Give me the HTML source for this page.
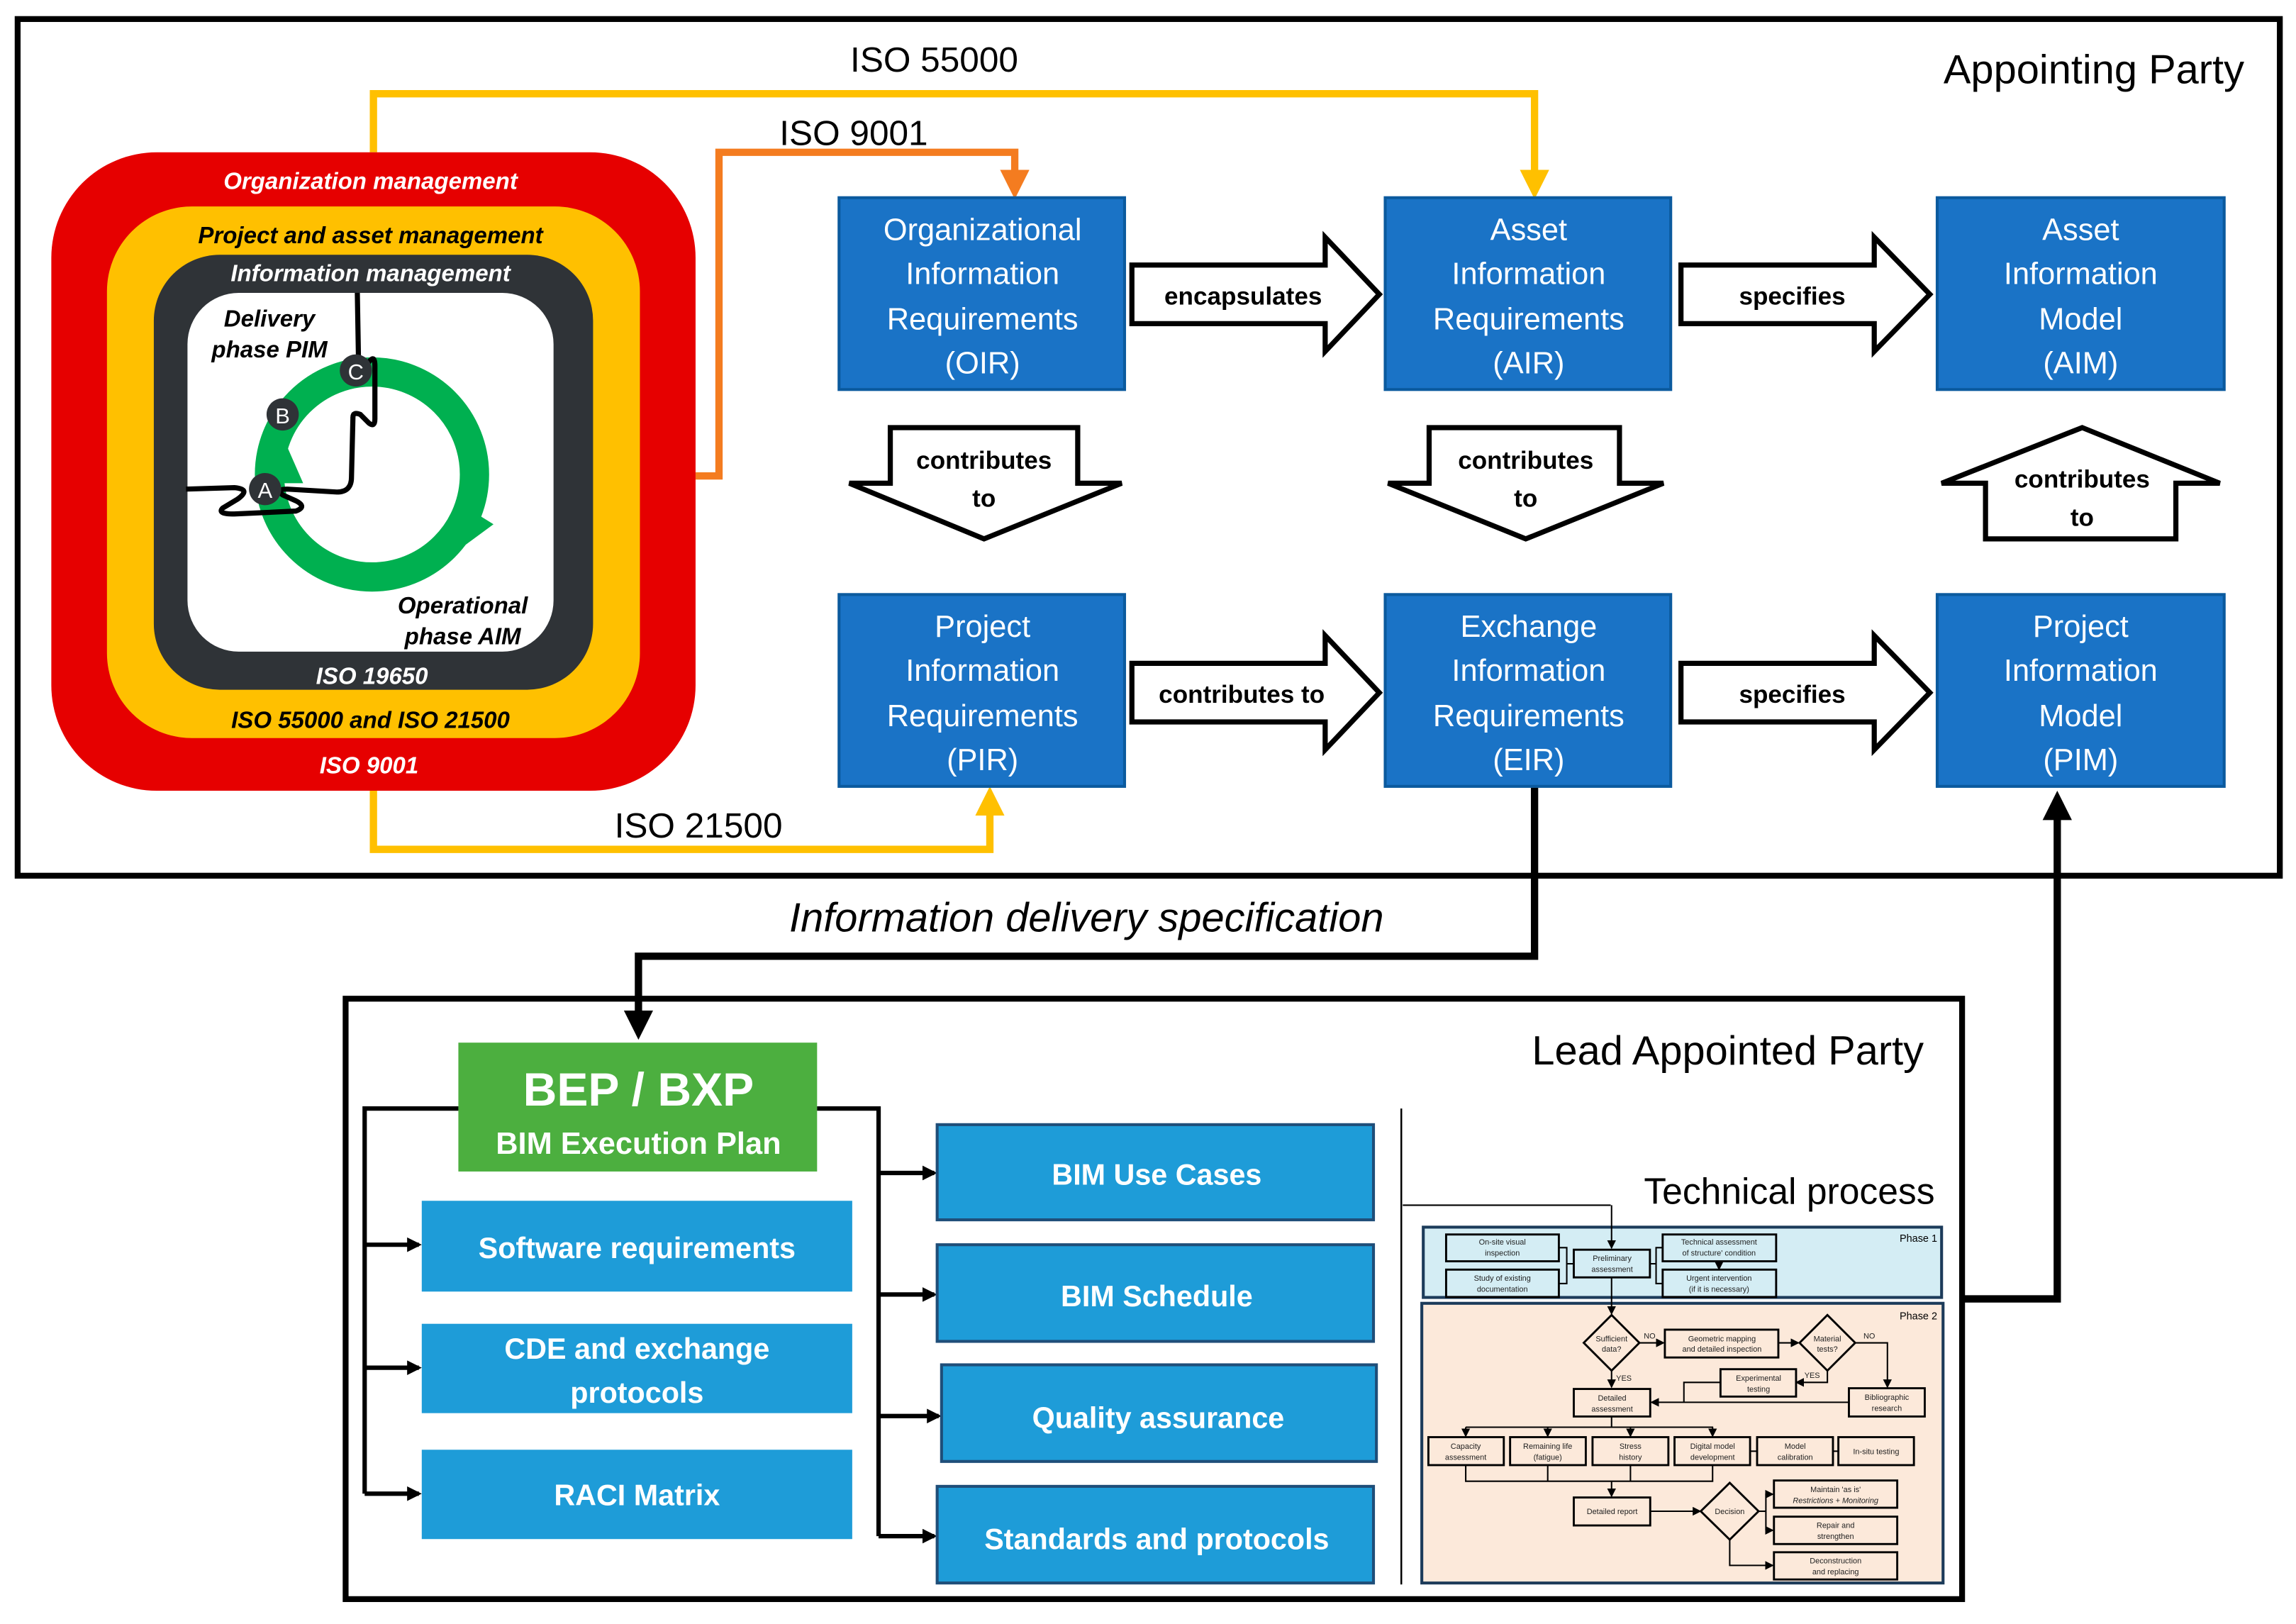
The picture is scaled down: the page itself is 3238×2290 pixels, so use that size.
<!DOCTYPE html>
<html><head><meta charset="utf-8"><style>html,body{margin:0;padding:0;background:#fff}svg{display:block}</style></head>
<body>
<svg xmlns="http://www.w3.org/2000/svg" width="3238" height="2290" viewBox="0 0 1568 1109" font-family="Liberation Sans, sans-serif">
<defs>
<marker id="ab" markerWidth="4" markerHeight="4" refX="2" refY="2" orient="auto" markerUnits="strokeWidth"><path d="M0,0 L4,2 L0,4 z" fill="#000"/></marker>
<marker id="ao" markerWidth="4" markerHeight="4" refX="2" refY="2" orient="auto" markerUnits="strokeWidth"><path d="M0,0 L4,2 L0,4 z" fill="#f47c20"/></marker>
<marker id="ay" markerWidth="4" markerHeight="4" refX="2" refY="2" orient="auto" markerUnits="strokeWidth"><path d="M0,0 L4,2 L0,4 z" fill="#ffc000"/></marker>
<marker id="as" markerWidth="6" markerHeight="6" refX="5" refY="3" orient="auto" markerUnits="userSpaceOnUse"><path d="M0,0 L6,3 L0,6 z" fill="#000"/></marker>
<marker id="am" markerWidth="10" markerHeight="10" refX="8" refY="5" orient="auto" markerUnits="userSpaceOnUse"><path d="M0,0 L10,5 L0,10 z" fill="#000"/></marker>
</defs>
<rect width="1568" height="1109" fill="#fff"/>
<!-- Top frame -->
<rect x="12" y="13" width="1545" height="585" fill="none" stroke="#000" stroke-width="4"/>
<text x="1430" y="57" font-size="28" text-anchor="middle">Appointing Party</text>

<!-- connectors top -->
<polyline points="255,104 255,64 1048,64 1048,126" fill="none" stroke="#ffc000" stroke-width="5" marker-end="url(#ay)"/>
<text x="638" y="49" font-size="24" text-anchor="middle">ISO 55000</text>
<polyline points="475,325 491,325 491,104 693,104 693,126" fill="none" stroke="#f47c20" stroke-width="5" marker-end="url(#ao)"/>
<text x="583" y="99" font-size="24" text-anchor="middle">ISO 9001</text>
<polyline points="255,540 255,580 676,580 676,547" fill="none" stroke="#ffc000" stroke-width="5" marker-end="url(#ay)"/>
<text x="477" y="572" font-size="24" text-anchor="middle">ISO 21500</text>

<!-- nested rounded rects -->
<rect x="35" y="104" width="440" height="436" rx="72" fill="#e60000"/>
<rect x="73" y="141" width="364" height="363" rx="58" fill="#ffc000"/>
<rect x="105" y="174" width="300" height="297" rx="45" fill="#2f3337"/>
<rect x="128" y="200" width="250" height="245" rx="35" fill="#fff"/>
<g font-weight="bold" font-style="italic" font-size="16" text-anchor="middle">
<text x="253" y="129" fill="#fff">Organization management</text>
<text x="253" y="166" fill="#000">Project and asset management</text>
<text x="253" y="192" fill="#fff">Information management</text>
<text x="254" y="467" fill="#fff">ISO 19650</text>
<text x="253" y="497" fill="#000">ISO 55000 and ISO 21500</text>
<text x="252" y="528" fill="#fff">ISO 9001</text>
<text x="184" y="223" fill="#000">Delivery</text>
<text x="184" y="244" fill="#000">phase PIM</text>
<text x="316" y="419" fill="#000">Operational</text>
<text x="316" y="440" fill="#000">phase AIM</text>
</g>
<!-- green cycle -->
<circle cx="254" cy="324" r="70" fill="none" stroke="#00b050" stroke-width="20"/>
<polygon points="193,298 180,330 207,330" fill="#00b050"/>
<polygon points="316,345 337,358 318,372" fill="#00b050"/>
<!-- squiggle -->
<path d="M127,334 L160,333 Q172,334 162,341 L152,347 Q148,351 160,351 L202,349 Q210,346 202,342 L193,338 Q188,334 196,334 L230,336 Q240,336 240,326 L241,285 Q241,281 246,283 L252,289 Q256,292 256,286 L256,250 Q256,240 250,250 L245,258 L244,200" fill="none" stroke="#000" stroke-width="3.5"/>
<g font-size="15" fill="#fff" text-anchor="middle">
<circle cx="181" cy="334" r="11" fill="#2f3337"/><text x="181" y="340">A</text>
<circle cx="193" cy="283" r="11" fill="#2f3337"/><text x="193" y="289">B</text>
<circle cx="243" cy="253" r="11" fill="#2f3337"/><text x="243" y="259">C</text>
</g>

<!-- blue boxes -->
<g fill="#1a73c6" stroke="#0b5a9e" stroke-width="2">
<rect x="573" y="135" width="195" height="131"/>
<rect x="946" y="135" width="195" height="131"/>
<rect x="1323" y="135" width="196" height="131"/>
<rect x="573" y="406" width="195" height="131"/>
<rect x="946" y="406" width="195" height="131"/>
<rect x="1323" y="406" width="196" height="131"/>
</g>
<g fill="#fff" font-size="21" text-anchor="middle">
<text x="671" y="164">Organizational</text><text x="671" y="194">Information</text><text x="671" y="225">Requirements</text><text x="671" y="255">(OIR)</text>
<text x="1044" y="164">Asset</text><text x="1044" y="194">Information</text><text x="1044" y="225">Requirements</text><text x="1044" y="255">(AIR)</text>
<text x="1421" y="164">Asset</text><text x="1421" y="194">Information</text><text x="1421" y="225">Model</text><text x="1421" y="255">(AIM)</text>
<text x="671" y="435">Project</text><text x="671" y="465">Information</text><text x="671" y="496">Requirements</text><text x="671" y="526">(PIR)</text>
<text x="1044" y="435">Exchange</text><text x="1044" y="465">Information</text><text x="1044" y="496">Requirements</text><text x="1044" y="526">(EIR)</text>
<text x="1421" y="435">Project</text><text x="1421" y="465">Information</text><text x="1421" y="496">Model</text><text x="1421" y="526">(PIM)</text>
</g>

<!-- block arrows -->
<g fill="#fff" stroke="#000" stroke-width="3.5" stroke-linejoin="miter">
<polygon points="773,181 905,181 905,162 942,201 905,240 905,221 773,221"/>
<polygon points="1148,181 1280,181 1280,162 1318,201 1280,240 1280,221 1148,221"/>
<polygon points="773,453 905,453 905,434 942,473 905,512 905,493 773,493"/>
<polygon points="1148,453 1280,453 1280,434 1318,473 1280,512 1280,493 1148,493"/>
<polygon points="608,292 736,292 736,330 766,330 672,368 580,330 608,330"/>
<polygon points="976,292 1106,292 1106,330 1136,330 1042,368 948,330 976,330"/>
<polygon points="1422,292 1516,330 1486,330 1486,368 1356,368 1356,330 1326,330"/>
</g>
<g font-size="17" font-weight="bold" text-anchor="middle">
<text x="849" y="208">encapsulates</text>
<text x="1224" y="208">specifies</text>
<text x="848" y="480">contributes to</text>
<text x="1224" y="480">specifies</text>
<text x="672" y="320">contributes</text><text x="672" y="346">to</text>
<text x="1042" y="320">contributes</text><text x="1042" y="346">to</text>
<text x="1422" y="333">contributes</text><text x="1422" y="359">to</text>
</g>

<!-- IDS connector -->
<polyline points="1048,538 1048,653 436,653 436,700" fill="none" stroke="#000" stroke-width="5" marker-end="url(#ab)"/>
<text x="742" y="636" font-size="28" font-style="italic" text-anchor="middle">Information delivery specification</text>
<polyline points="1340,887 1405,887 1405,550" fill="none" stroke="#000" stroke-width="5" marker-end="url(#ab)"/>

<!-- Lower frame -->
<rect x="236" y="682" width="1104" height="410" fill="none" stroke="#000" stroke-width="4"/>
<text x="1180" y="727" font-size="28" text-anchor="middle">Lead Appointed Party</text>
<rect x="313" y="712" width="245" height="88" fill="#4caf3f"/>
<text x="436" y="755" font-size="32" font-weight="bold" fill="#fff" text-anchor="middle">BEP / BXP</text>
<text x="436" y="788" font-size="21" font-weight="bold" fill="#fff" text-anchor="middle">BIM Execution Plan</text>

<g fill="none" stroke="#000" stroke-width="3">
<polyline points="313,757 249,757 249,1020"/>
<line x1="249" y1="850" x2="286" y2="850" marker-end="url(#am)"/>
<line x1="249" y1="934" x2="286" y2="934" marker-end="url(#am)"/>
<line x1="249" y1="1020" x2="286" y2="1020" marker-end="url(#am)"/>
<polyline points="558,757 600,757 600,1049"/>
<line x1="600" y1="801" x2="638" y2="801" marker-end="url(#am)"/>
<line x1="600" y1="884" x2="638" y2="884" marker-end="url(#am)"/>
<line x1="600" y1="967" x2="641" y2="967" marker-end="url(#am)"/>
<line x1="600" y1="1049" x2="638" y2="1049" marker-end="url(#am)"/>
</g>
<g fill="#1e9cd8">
<rect x="288" y="820" width="294" height="62"/>
<rect x="288" y="904" width="294" height="61"/>
<rect x="288" y="990" width="294" height="61"/>
</g>
<g fill="#1e9cd8" stroke="#1f4e79" stroke-width="2">
<rect x="640" y="768" width="298" height="65"/>
<rect x="640" y="850" width="298" height="66"/>
<rect x="643" y="932" width="297" height="66"/>
<rect x="640" y="1015" width="298" height="66"/>
</g>
<g fill="#fff" font-size="20" font-weight="bold" text-anchor="middle">
<text x="435" y="859">Software requirements</text>
<text x="435" y="928">CDE and exchange</text><text x="435" y="958">protocols</text>
<text x="435" y="1028">RACI Matrix</text>
<text x="790" y="809">BIM Use Cases</text>
<text x="790" y="892">BIM Schedule</text>
<text x="791" y="975">Quality assurance</text>
<text x="790" y="1058">Standards and protocols</text>
</g>
<line x1="957" y1="757" x2="957" y2="1082" stroke="#000" stroke-width="1.2"/>
<text x="1222" y="822" font-size="25" text-anchor="middle">Technical process</text>
<line x1="958" y1="823" x2="1100" y2="823" stroke="#000" stroke-width="1"/>

<!-- flowchart -->
<rect x="972" y="838" width="354" height="48" fill="#d4edf4" stroke="#1c3b5a" stroke-width="2"/>
<rect x="971" y="890" width="356" height="191" fill="#fce9da" stroke="#1c3b5a" stroke-width="2"/>
<g font-size="7" text-anchor="end"><text x="1323" y="848">Phase 1</text><text x="1323" y="901">Phase 2</text></g>
<g fill="none" stroke="#000" stroke-width="1">
<line x1="1100.6" y1="823" x2="1100.6" y2="852" marker-end="url(#as)"/>
<line x1="1100.6" y1="872" x2="1100.6" y2="897" marker-end="url(#as)"/>
<polyline points="1064.5,852 1070,852 1070,876.5 1064.5,876.5"/><line x1="1070" y1="863" x2="1075" y2="863"/>
<polyline points="1135.5,852 1131,852 1131,876.5 1135.5,876.5"/><line x1="1127" y1="863" x2="1131" y2="863"/>
<line x1="1174" y1="861" x2="1174" y2="866.5" marker-end="url(#as)"/>
<line x1="1119.6" y1="917" x2="1136" y2="917" marker-end="url(#as)"/>
<line x1="1214.5" y1="917" x2="1228" y2="917" marker-end="url(#as)"/>
<polyline points="1267,917 1289,917 1289,947" marker-end="url(#as)"/>
<polyline points="1248,936 1248,944 1227,944" marker-end="url(#as)"/>
<line x1="1100.6" y1="936" x2="1100.6" y2="947" marker-end="url(#as)"/>
<polyline points="1175,944 1150,944 1150,957.6"/>
<line x1="1262.7" y1="957.6" x2="1128" y2="957.6" marker-end="url(#as)"/>
<line x1="1100.6" y1="967.3" x2="1100.6" y2="974.6"/>
<line x1="1001" y1="974.6" x2="1170" y2="974.6"/>
<line x1="1001" y1="974.6" x2="1001" y2="980.5" marker-end="url(#as)"/>
<line x1="1057" y1="974.6" x2="1057" y2="980.5" marker-end="url(#as)"/>
<line x1="1113.5" y1="974.6" x2="1113.5" y2="980.5" marker-end="url(#as)"/>
<line x1="1169.6" y1="974.6" x2="1169.6" y2="980.5" marker-end="url(#as)"/>
<polyline points="1001,1000.5 1001,1011.5 1169.6,1011.5 1169.6,1000.5"/>
<line x1="1057" y1="1000.5" x2="1057" y2="1011.5"/><line x1="1113.5" y1="1000.5" x2="1113.5" y2="1011.5"/>
<line x1="1100.6" y1="1011.5" x2="1100.6" y2="1021.5" marker-end="url(#as)"/>
<line x1="1195.2" y1="991" x2="1200" y2="991"/><line x1="1251.8" y1="991" x2="1255.5" y2="991"/>
<line x1="1127" y1="1032" x2="1161" y2="1032" marker-end="url(#as)"/>
<line x1="1201" y1="1032" x2="1206" y2="1032"/>
<polyline points="1206,1045 1206,1020.4 1210.5,1020.4" marker-end="url(#as)"/>
<line x1="1206" y1="1045" x2="1210.5" y2="1045" marker-end="url(#as)"/>
<polyline points="1181.3,1051.4 1181.3,1069 1210.5,1069" marker-end="url(#as)"/>
</g>
<g fill="none" stroke="#000" stroke-width="1.4">
<rect x="987.6" y="843" width="77" height="18.3"/>
<rect x="987.6" y="867" width="77" height="18.7"/>
<rect x="1074.8" y="853.4" width="52" height="18.9"/>
<rect x="1135.5" y="843" width="77.5" height="18.3"/>
<rect x="1135.5" y="867" width="77.5" height="18.7"/>
<polygon points="1100.6,898 1119.6,917 1100.6,936 1081.6,917"/>
<rect x="1137" y="908" width="77.5" height="19"/>
<polygon points="1248,898 1267,917 1248,936 1229,917"/>
<rect x="1175" y="935" width="51.6" height="18.7"/>
<rect x="1262.7" y="948" width="51.8" height="19.3"/>
<rect x="1074.8" y="948.5" width="52.2" height="18.8"/>
<rect x="975.5" y="981.4" width="51.5" height="19.1"/>
<rect x="1031.3" y="981.4" width="51.7" height="19.1"/>
<rect x="1087.6" y="981.4" width="51.8" height="19.1"/>
<rect x="1143.6" y="981.4" width="51.6" height="19.1"/>
<rect x="1200" y="981.4" width="51.8" height="19.1"/>
<rect x="1255.5" y="981.4" width="51.6" height="19.1"/>
<rect x="1074.8" y="1022.6" width="52.2" height="19.1"/>
<polygon points="1181.3,1012.6 1201,1032 1181.3,1051.4 1161.5,1032"/>
<rect x="1211.5" y="1011" width="84.2" height="18.6"/>
<rect x="1211.5" y="1035.7" width="84.2" height="18.7"/>
<rect x="1211.5" y="1060" width="84.2" height="18.6"/>
</g>
<g font-size="5.3" text-anchor="middle" fill="#222">
<text x="1026" y="850">On-site visual</text><text x="1026" y="857.5">inspection</text>
<text x="1026" y="874.5">Study of existing</text><text x="1026" y="882">documentation</text>
<text x="1101" y="861">Preliminary</text><text x="1101" y="868.5">assessment</text>
<text x="1174" y="850">Technical assessment</text><text x="1174" y="857.5">of structure' condition</text>
<text x="1174" y="874.5">Urgent intervention</text><text x="1174" y="882">(if it is necessary)</text>
<text x="1100.6" y="916">Sufficient</text><text x="1100.6" y="923">data?</text>
<text x="1126.6" y="914">NO</text><text x="1276.6" y="914">NO</text>
<text x="1109" y="943">YES</text><text x="1237.6" y="941">YES</text>
<text x="1176" y="916">Geometric mapping</text><text x="1176" y="923">and detailed inspection</text>
<text x="1248" y="916">Material</text><text x="1248" y="923">tests?</text>
<text x="1201" y="943">Experimental</text><text x="1201" y="950.5">testing</text>
<text x="1288.6" y="956">Bibliographic</text><text x="1288.6" y="963.5">research</text>
<text x="1101" y="956.5">Detailed</text><text x="1101" y="964">assessment</text>
<text x="1001" y="989.5">Capacity</text><text x="1001" y="997">assessment</text>
<text x="1057" y="989.5">Remaining life</text><text x="1057" y="997">(fatigue)</text>
<text x="1113.5" y="989.5">Stress</text><text x="1113.5" y="997">history</text>
<text x="1169.6" y="989.5">Digital model</text><text x="1169.6" y="997">development</text>
<text x="1226" y="989.5">Model</text><text x="1226" y="997">calibration</text>
<text x="1281.3" y="993">In-situ testing</text>
<text x="1101" y="1034">Detailed report</text>
<text x="1181.3" y="1034">Decision</text>
<text x="1253.6" y="1019">Maintain 'as is'</text><text x="1253.6" y="1026.5" font-style="italic">Restrictions + Monitoring</text>
<text x="1253.6" y="1043.5">Repair and</text><text x="1253.6" y="1051">strengthen</text>
<text x="1253.6" y="1067.5">Deconstruction</text><text x="1253.6" y="1075">and replacing</text>
</g>
</svg>
</body></html>
